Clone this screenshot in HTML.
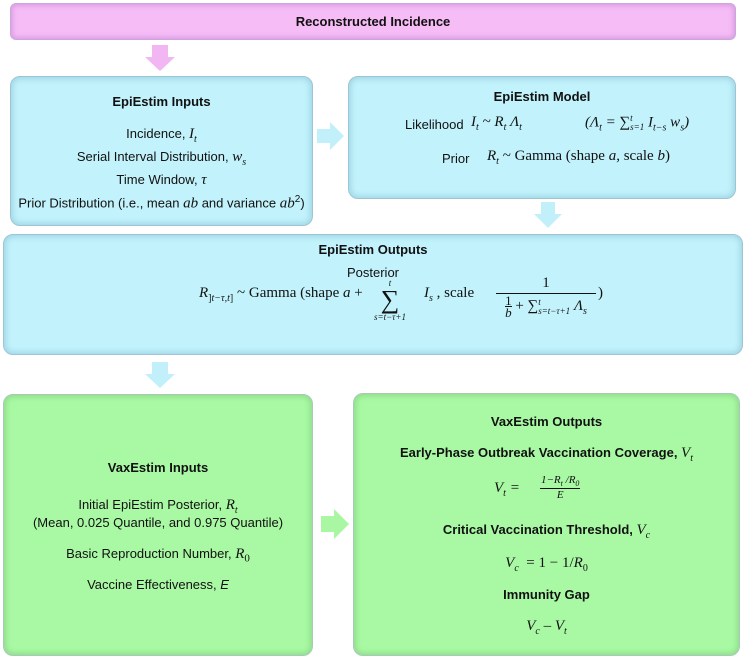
<!DOCTYPE html>
<html><head><meta charset="utf-8"><style>
body{margin:0;width:746px;height:658px;background:#fff;position:relative;overflow:hidden;font-family:"Liberation Sans",sans-serif;font-size:13px;color:#111}
.b{position:absolute;box-sizing:border-box;border:1px solid #9fc4d4;border-radius:10px}
.blue{background:#c2f2fb;box-shadow:inset 0 0 6px 2px #9fd6e6}
.green{background:#a9f9a4;border-color:#a9c9b8;box-shadow:inset 0 0 6px 2px #8fdc8a}
.pink{background:#f5bcf6;border-color:#c8a8d8;box-shadow:inset 0 0 5px 2px #dc9ee4;border-radius:6px}
.t{position:absolute;left:0;right:0;text-align:center;white-space:nowrap}
.bd{font-weight:bold}
.m{font-family:"Liberation Serif",serif;font-style:italic;font-size:15px}
.r{font-family:"Liberation Serif",serif;font-size:15px}
sub,sup{font-size:10px}
svg{position:absolute}
.ss{display:inline-block;vertical-align:middle;font-size:9px;line-height:9px;text-align:left}
</style></head><body>
<div class="b pink" style="left:10px;top:3px;width:726px;height:37px"><div class="t bd" style="top:10px">Reconstructed Incidence</div></div>
<svg style="left:144px;top:45px" width="32" height="27"><polygon points="8,0 24,0 24,12 31,12 16,26 1,12 8,12" fill="#f2b6f2"/></svg>

<div class="b blue" style="left:10px;top:76px;width:303px;height:150px">
<div class="t bd" style="top:17px">EpiEstim Inputs</div>
<div class="t" style="top:49px">Incidence, <span class="m">I<sub>t</sub></span></div>
<div class="t" style="top:72px">Serial Interval Distribution, <span class="m">w<sub>s</sub></span></div>
<div class="t" style="top:95px">Time Window, <span class="m">τ</span></div>
<div class="t" style="top:117px">Prior Distribution (i.e., mean <span class="m">ab</span> and variance <span class="m">ab</span><sup>2</sup>)</div>
</div>
<svg style="left:317px;top:121px" width="28" height="31"><polygon points="0,8 13,8 13,1 27,15 13,29 13,22 0,22" fill="#c2f0fa"/></svg>

<div class="b blue" style="left:348px;top:76px;width:388px;height:123px">
<div class="t bd" style="top:12px">EpiEstim Model</div>
<div style="position:absolute;left:56px;top:40px">Likelihood</div>
<div style="position:absolute;left:122px;top:37px" class="m">I<sub>t</sub> <span class="r">~</span> R<sub>t</sub> Λ<sub>t</sub></div>
<div style="position:absolute;left:236px;top:37px" class="m"><span class="r">(</span>Λ<sub>t</sub> <span class="r">= ∑</span><span class="ss">t<br>s=1</span> I<sub>t−s</sub> w<sub>s</sub><span class="r">)</span></div>
<div style="position:absolute;left:93px;top:74px">Prior</div>
<div style="position:absolute;left:138px;top:71px" class="r"><i>R<sub>t</sub></i> ~ Gamma (shape <i>a</i>, scale <i>b</i>)</div>
</div>
<svg style="left:533px;top:202px" width="30" height="27"><polygon points="8,0 22,0 22,12 29,12 15,26 1,12 8,12" fill="#c2f0fa"/></svg>

<div class="b blue" style="left:3px;top:234px;width:740px;height:121px">
<div class="t bd" style="top:7px">EpiEstim Outputs</div>
<div class="t" style="top:30px">Posterior</div>
<div style="position:absolute;left:195px;top:50px" class="r"><i>R</i><sub>]<i>t−τ,t</i>]</sub> ~ Gamma (shape <i>a</i> +</div>
<div style="position:absolute;left:358px;top:44px;width:56px;text-align:center" class="r"><div style="font-size:9px;font-style:italic;line-height:9px">t</div><div style="font-size:26px;line-height:24px">∑</div><div style="font-size:9px;font-style:italic;line-height:10px">s=t−τ+1</div></div>
<div style="position:absolute;left:420px;top:50px" class="r"><i>I<sub>s</sub></i> , scale</div>
<div style="position:absolute;left:492px;top:38px;width:100px;text-align:center" class="r"><div style="border-bottom:1px solid #111;line-height:20px">1</div><div style="line-height:24px"><span style="display:inline-block;vertical-align:middle;font-size:13px;line-height:11px"><span style="display:block;border-bottom:1px solid #111">1</span><i>b</i></span> + ∑<span class="ss"><i>t</i><br><i>s=t−τ+1</i></span> <i>Λ<sub>s</sub></i></div></div>
<div style="position:absolute;left:594px;top:50px" class="r">)</div>
</div>
<svg style="left:144px;top:362px" width="32" height="27"><polygon points="8,0 24,0 24,12 31,12 16,26 1,12 8,12" fill="#c2f0fa"/></svg>

<div class="b green" style="left:3px;top:394px;width:310px;height:262px">
<div class="t bd" style="top:65px">VaxEstim Inputs</div>
<div class="t" style="top:102px">Initial EpiEstim Posterior, <span class="m">R<sub>t</sub></span></div>
<div class="t" style="top:120px">(Mean, 0.025 Quantile, and 0.975 Quantile)</div>
<div class="t" style="top:151px">Basic Reproduction Number, <span class="m">R</span><sub class="r" style="font-size:11px">0</sub></div>
<div class="t" style="top:182px">Vaccine Effectiveness, <i>E</i></div>
</div>
<svg style="left:321px;top:508px" width="29" height="32"><polygon points="0,8 13,8 13,1 28,16 13,31 13,24 0,24" fill="#a9f7a2"/></svg>

<div class="b green" style="left:353px;top:393px;width:387px;height:263px">
<div class="t bd" style="top:20px">VaxEstim Outputs</div>
<div class="t bd" style="top:51px">Early-Phase Outbreak Vaccination Coverage, <span class="m" style="font-weight:normal">V<sub>t</sub></span></div>
<div style="position:absolute;left:140px;top:86px" class="m">V<sub>t</sub> <span class="r">=</span></div>
<div style="position:absolute;left:186px;top:80px;font-size:11px;text-align:center" class="m"><div style="border-bottom:1px solid #111;padding:0 1px">1−R<sub style="font-size:8px">t</sub> /R<sub style="font-size:8px">0</sub></div><div>E</div></div>
<div class="t bd" style="top:128px">Critical Vaccination Threshold, <span class="m" style="font-weight:normal">V<sub>c</sub></span></div>
<div class="t r" style="top:161px"><i>V<sub>c</sub></i> &nbsp;= 1 − 1/<i>R</i><sub>0</sub></div>
<div class="t bd" style="top:193px">Immunity Gap</div>
<div class="t m" style="top:224px">V<sub>c</sub> <span class="r">–</span> V<sub>t</sub></div>
</div>
</body></html>
